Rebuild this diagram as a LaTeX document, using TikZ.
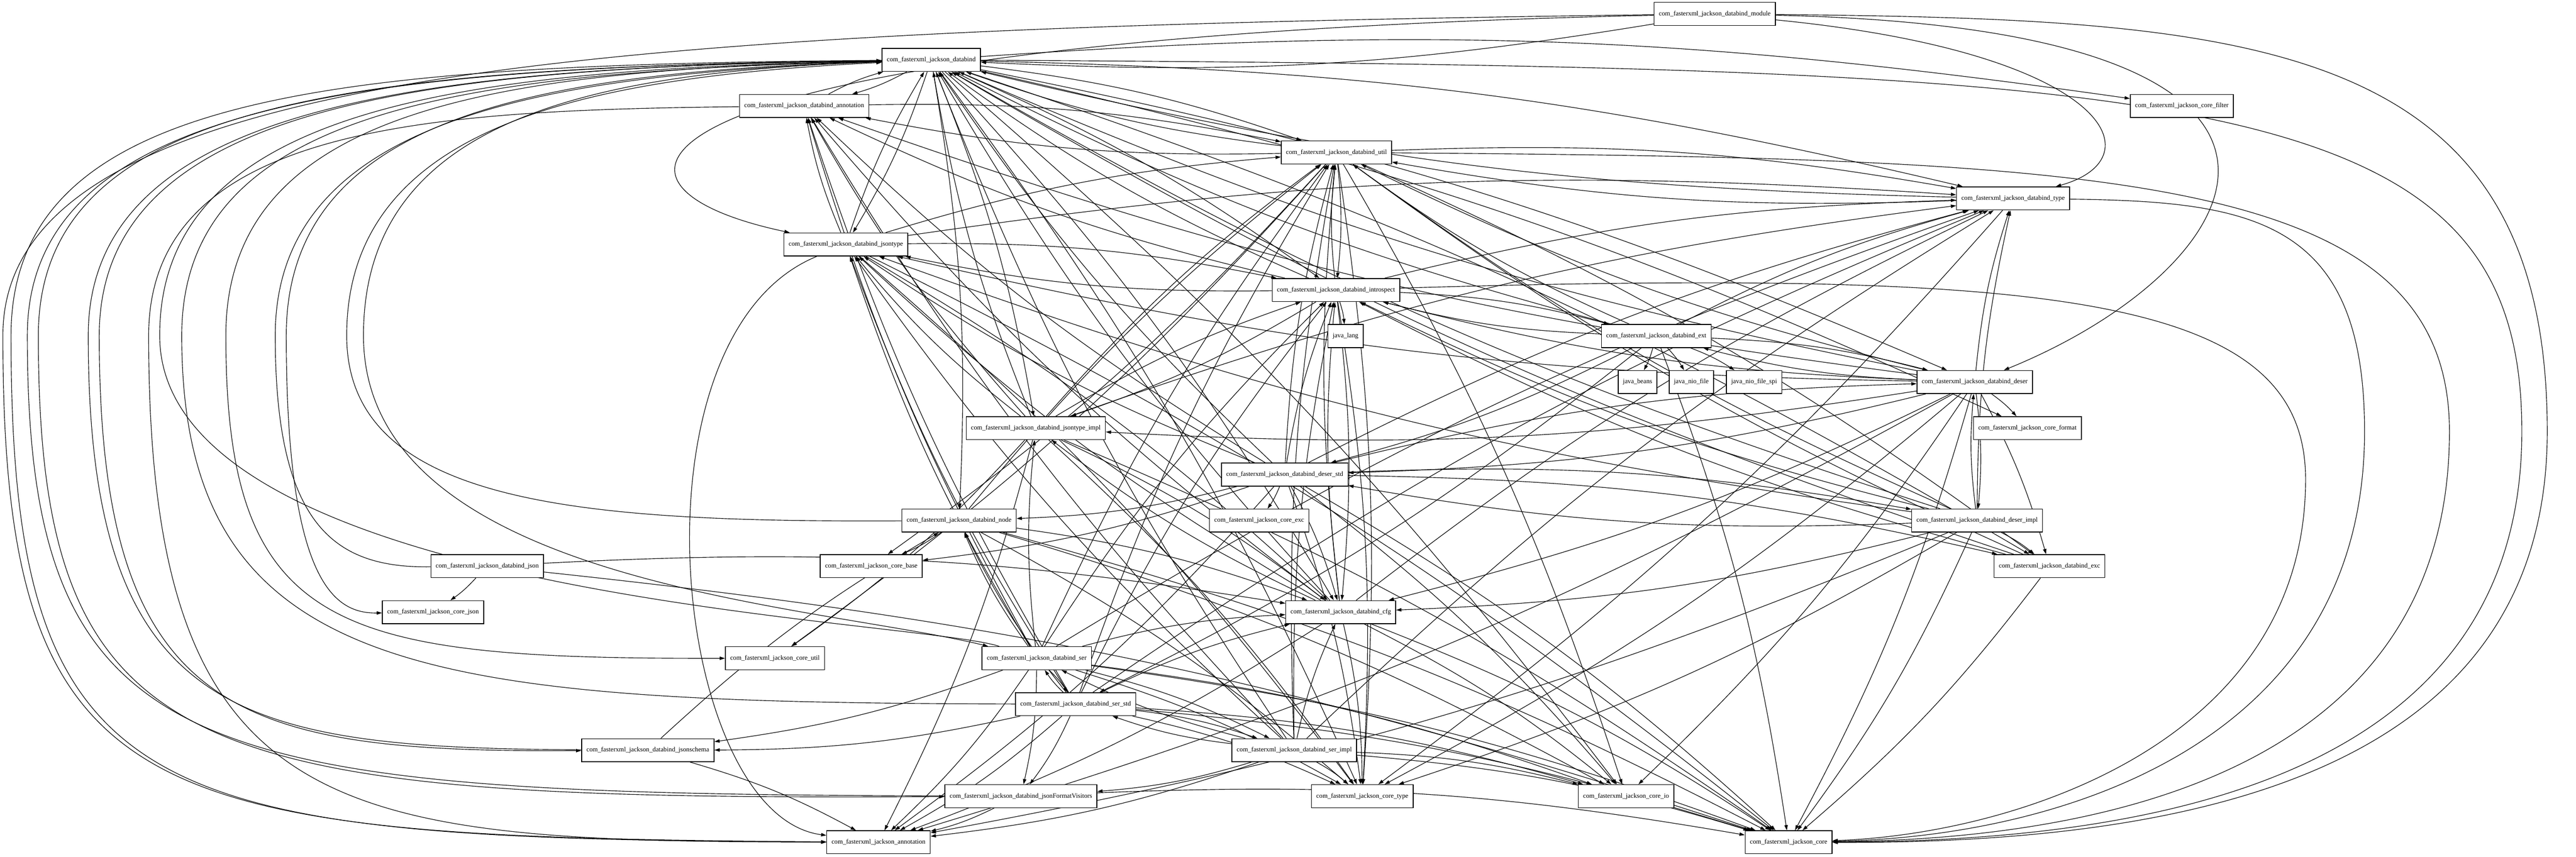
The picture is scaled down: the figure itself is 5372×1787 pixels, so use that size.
\documentclass[tikz,border=0pt]{standalone}
\usepackage{fontspec}
\setmainfont{Liberation Serif}
\usetikzlibrary{arrows.meta}
\pgfdeclarelayer{edges}
\pgfsetlayers{edges,main}
\newcommand{\pkgfont}{\fontsize{3.9}{4.7}\selectfont}

\begin{document}
\begin{tikzpicture}[x=0.01cm, y=-0.01cm,
  pkg/.style={draw, line width=0.45pt, rectangle, minimum height=0.48cm, inner xsep=0.1cm, inner ysep=0pt, font=\pkgfont, fill=white},
  dep/.style={line width=0.35pt, -{Triangle[length=0.11cm, width=0.07cm]}},
  every edge/.style={draw, dep, bend left=6}]
  \useasboundingbox (0,0) rectangle (5372,1787);
  % packages, one rank per row
  \node[pkg] (module) at (3576,29) {com\_fasterxml\_jackson\_databind\_module};
  \node[pkg] (databind) at (1942,125) {com\_fasterxml\_jackson\_databind};
  \node[pkg] (dann) at (1677,221) {com\_fasterxml\_jackson\_databind\_annotation};
  \node[pkg] (corefilter) at (4550,221) {com\_fasterxml\_jackson\_core\_filter};
  \node[pkg] (util) at (2787,318) {com\_fasterxml\_jackson\_databind\_util};
  \node[pkg] (type) at (4198,414) {com\_fasterxml\_jackson\_databind\_type};
  \node[pkg] (jsontype) at (1764,510) {com\_fasterxml\_jackson\_databind\_jsontype};
  \node[pkg] (introspect) at (2786,605) {com\_fasterxml\_jackson\_databind\_introspect};
  \node[pkg] (javalang) at (2806,701) {java\_lang};
  \node[pkg] (ext) at (3454,701) {com\_fasterxml\_jackson\_databind\_ext};
  \node[pkg] (javabeans) at (3415,797) {java\_beans};
  \node[pkg] (javaniofile) at (3527,797) {java\_nio\_file};
  \node[pkg] (javaniofilespi) at (3658,797) {java\_nio\_file\_spi};
  \node[pkg] (deser) at (4118,797) {com\_fasterxml\_jackson\_databind\_deser};
  \node[pkg] (coreformat) at (4228,893) {com\_fasterxml\_jackson\_core\_format};
  \node[pkg] (jsontypeimpl) at (2160,893) {com\_fasterxml\_jackson\_databind\_jsontype\_impl};
  \node[pkg] (deserstd) at (2679,990) {com\_fasterxml\_jackson\_databind\_deser\_std};
  \node[pkg] (deserimpl) at (4123,1086) {com\_fasterxml\_jackson\_databind\_deser\_impl};
  \node[pkg] (coreexc) at (2626,1086) {com\_fasterxml\_jackson\_core\_exc};
  \node[pkg] (node) at (2000,1086) {com\_fasterxml\_jackson\_databind\_node};
  \node[pkg] (json) at (1016,1181) {com\_fasterxml\_jackson\_databind\_json};
  \node[pkg] (corebase) at (1817,1181) {com\_fasterxml\_jackson\_core\_base};
  \node[pkg] (exc) at (4274,1181) {com\_fasterxml\_jackson\_databind\_exc};
  \node[pkg] (corejson) at (903,1277) {com\_fasterxml\_jackson\_core\_json};
  \node[pkg] (cfg) at (2796,1277) {com\_fasterxml\_jackson\_databind\_cfg};
  \node[pkg] (coreutil) at (1616,1373) {com\_fasterxml\_jackson\_core\_util};
  \node[pkg] (ser) at (2162,1373) {com\_fasterxml\_jackson\_databind\_ser};
  \node[pkg] (serstd) at (2243,1469) {com\_fasterxml\_jackson\_databind\_ser\_std};
  \node[pkg] (jsonschema) at (1351,1565) {com\_fasterxml\_jackson\_databind\_jsonschema};
  \node[pkg] (serimpl) at (2699,1565) {com\_fasterxml\_jackson\_databind\_ser\_impl};
  \node[pkg] (jfv) at (2129,1661) {com\_fasterxml\_jackson\_databind\_jsonFormatVisitors};
  \node[pkg] (coretype) at (2841,1661) {com\_fasterxml\_jackson\_core\_type};
  \node[pkg] (coreio) at (3391,1661) {com\_fasterxml\_jackson\_core\_io};
  \node[pkg] (annotation) at (1832,1757) {com\_fasterxml\_jackson\_annotation};
  \node[pkg] (core) at (3730,1757) {com\_fasterxml\_jackson\_core};

  \begin{pgfonlayer}{edges}
  % module
  \path (module) edge (databind);
  \draw[dep] (module) .. controls (1300,80) and (1150,380) .. (jsontype);
  \draw[dep] (module) .. controls (1200,60) and (6,150) .. (6,700) .. controls (6,1700) and (300,1745) .. (annotation);
  \draw[dep] (module) .. controls (4400,110) and (4500,330) .. (type);
  \draw[dep] (module) .. controls (5000,60) and (4700,560) .. (deser);
  \draw[dep] (module) .. controls (4700,40) and (5312,80) .. (5312,900) .. controls (5312,1600) and (4600,1760) .. (core);
  % databind
  \path (databind) edge (dann) edge (util) edge (corefilter) edge (type) edge (introspect) edge (jsontype) edge (cfg) edge (deser) edge (exc) edge (node) edge (coretype) edge (coreio) edge (coreformat) edge (jsontypeimpl);
  \draw[dep] (databind) .. controls (700,135) and (23,190) .. (23,700) .. controls (23,1690) and (300,1750) .. (annotation);
  \draw[dep] (databind) .. controls (760,140) and (80,200) .. (80,700) .. controls (80,1600) and (400,1670) .. (jfv);
  \draw[dep] (databind) .. controls (900,140) and (207,210) .. (207,700) .. controls (207,1500) and (500,1570) .. (jsonschema);
  \draw[dep] (databind) .. controls (1050,145) and (471,220) .. (471,700) .. controls (471,1320) and (700,1375) .. (coreutil);
  \draw[dep] (databind) .. controls (1150,150) and (597,230) .. (597,700) .. controls (597,1220) and (700,1280) .. (corejson);
  \draw[dep] (databind) .. controls (1250,150) and (758,240) .. (758,700) .. controls (758,1220) and (1700,1260) .. (ser);
  \draw[dep] (databind) .. controls (4600,140) and (5259,180) .. (5259,900) .. controls (5259,1620) and (4500,1755) .. (core);
  % databind_annotation
  \path (dann) edge (databind) edge (util);
  \draw[dep] (dann) .. controls (900,230) and (310,260) .. (310,700) .. controls (310,1720) and (700,1755) .. (annotation);
  % util
  \path (util) edge (databind) edge (dann) edge (type) edge (introspect) edge (exc) edge (coretype) edge (coreio) edge (coreutil) edge (corebase);
  \draw[dep] (util) .. controls (4400,330) and (5108,360) .. (5108,900) .. controls (5108,1600) and (4400,1750) .. (core);
  % type
  \path (type) edge (databind) edge (util) edge (coretype);
  \draw[dep] (type) .. controls (4700,420) and (4931,460) .. (4931,900) .. controls (4931,1550) and (4300,1745) .. (core);
  % jsontype
  \path (jsontype) edge (databind) edge (dann) edge (introspect) edge (cfg) edge (type) edge (util) edge (coretype) edge (core);
  \draw[dep] (jsontype) .. controls (1300,700) and (1400,1700) .. (annotation);
  % introspect
  \path (introspect) edge (databind) edge (dann) edge (cfg) edge (jsontype) edge (jsontypeimpl) edge (type) edge (util) edge (ext) edge (javalang) edge (coretype);
  \draw[dep] (introspect) .. controls (4300,560) and (4808,620) .. (4808,1000) .. controls (4808,1550) and (4200,1740) .. (core);
  % ext
  \path (ext) edge (databind) edge (introspect) edge (util) edge (type) edge (deser) edge (deserstd) edge (serstd) edge (javabeans) edge (javaniofile) edge (javaniofilespi) edge (core);
  % deser
  \path (deser) edge (databind) edge (dann) edge (cfg) edge (deserimpl) edge (deserstd) edge (exc) edge (introspect) edge (jsontype) edge (jsontypeimpl) edge (type) edge (util) edge (core) edge (coreformat) edge (coretype) edge (coreio) edge (annotation) edge (ext);
  % deser_impl
  \path (deserimpl) edge (databind) edge (cfg) edge (deser) edge (deserstd) edge (exc) edge (introspect) edge (jsontype) edge (type) edge (util) edge (core) edge (coretype) edge (annotation);
  % deser_std
  \path (deserstd) edge (databind) edge (dann) edge (cfg) edge (deser) edge (deserimpl) edge (exc) edge (introspect) edge (jsontype) edge (node) edge (type) edge (util) edge (core) edge (coreexc) edge (coretype) edge (coreio) edge (annotation) edge (corebase);
  % jsontype_impl
  \path (jsontypeimpl) edge (databind) edge (dann) edge (cfg) edge (introspect) edge (jsontype) edge (type) edge (util) edge (annotation) edge (core) edge (coretype) edge (coreutil);
  % node
  \draw[dep] (node) .. controls (1200,1090) and (723,1050) .. (723,700) .. controls (723,250) and (1250,160) .. (databind);
  \path (node) edge (cfg) edge (util) edge (core) edge (coretype) edge (coreio) edge (corebase);
  % json
  \draw[dep] (json) .. controls (700,1185) and (574,1100) .. (574,700) .. controls (574,240) and (1150,155) .. (databind);
  \path (json) edge (cfg) edge (core) edge (corejson);
  % exc
  \path (exc) edge (databind) edge (util) edge (introspect) edge (core);
  % cfg
  \path (cfg) edge (databind) edge (dann) edge (introspect) edge (jsontype) edge (jsontypeimpl) edge (type) edge (util) edge (core) edge (coretype) edge (coreio) edge (annotation);
  % ser
  \draw[dep] (ser) .. controls (1900,1290) and (333,1250) .. (333,700) .. controls (333,210) and (1000,145) .. (databind);
  \path (ser) edge (dann) edge (cfg) edge (introspect) edge (jsontype) edge (jsontypeimpl) edge (serimpl) edge (serstd) edge (type) edge (util) edge (jfv) edge (jsonschema) edge (node) edge (core) edge (coretype) edge (coreio) edge (annotation);
  % ser_std
  \draw[dep] (serstd) .. controls (900,1465) and (379,1420) .. (379,700) .. controls (379,215) and (1000,150) .. (databind);
  \path (serstd) edge (dann) edge (cfg) edge (introspect) edge (jsontype) edge (jfv) edge (jsonschema) edge (node) edge (ser) edge (serimpl) edge (type) edge (util) edge (core) edge (coretype) edge (coreio) edge (annotation);
  % ser_impl
  \path (serimpl) edge (databind) edge (dann) edge (cfg) edge (introspect) edge (jsontype) edge (jfv) edge (ser) edge (serstd) edge (type) edge (util) edge (core) edge (coretype) edge (coreio) edge (annotation);
  % jsonFormatVisitors
  \draw[dep] (jfv) .. controls (400,1655) and (57,1600) .. (57,700) .. controls (57,200) and (800,140) .. (databind);
  \path (jfv) edge (annotation) edge (core);
  % jsonschema
  \draw[dep] (jsonschema) .. controls (500,1560) and (184,1500) .. (184,700) .. controls (184,210) and (900,140) .. (databind);
  \path (jsonschema) edge (annotation) edge (node);
  \end{pgfonlayer}
\end{tikzpicture}
\end{document}
